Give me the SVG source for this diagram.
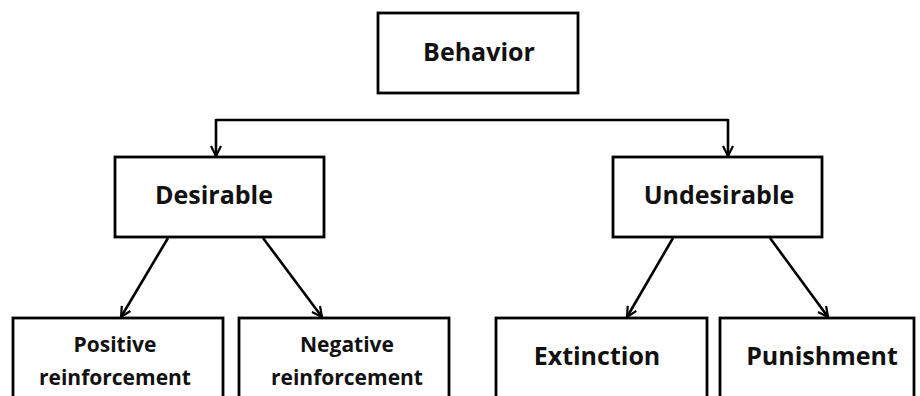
<svg xmlns="http://www.w3.org/2000/svg" width="920" height="396" viewBox="0 0 920 396">
<defs>
<marker id="arr" viewBox="0 0 12 12" refX="11" refY="6" markerWidth="12" markerHeight="12" markerUnits="userSpaceOnUse" orient="auto">
<path d="M1,1 L11,6 L1,11" fill="none" stroke="#000" stroke-width="2.2"/>
</marker>
<style>
.box{fill:#fff;stroke:#000;stroke-width:2.8}
.t{font-family:"Open Sans","Liberation Sans",sans-serif;font-weight:700;font-size:25px;fill:#111;text-anchor:middle}
.s{font-size:21px}
.c{fill:none;stroke:#000;stroke-width:2.6}
</style>
</defs>
<rect width="920" height="396" fill="#fff"/>
<g id="connectors">
<path class="c" d="M216,120 L728,120"/>
<path class="c" d="M216,119 L216,156" marker-end="url(#arr)"/>
<path class="c" d="M728,119 L728,156" marker-end="url(#arr)"/>
<path class="c" d="M168,238 L121,317" marker-end="url(#arr)"/>
<path class="c" d="M263,238 L322,317" marker-end="url(#arr)"/>
<path class="c" d="M673,238 L627,317" marker-end="url(#arr)"/>
<path class="c" d="M770,238 L828,317" marker-end="url(#arr)"/>
</g>
<g id="behavior">
<rect class="box" x="378" y="13" width="200" height="80"/>
<text class="t" x="479" y="61">Behavior</text>
</g>
<g id="desirable">
<rect class="box" x="115" y="157" width="209" height="80"/>
<text class="t" x="214" y="204">Desirable</text>
</g>
<g id="undesirable">
<rect class="box" x="613" y="157" width="209" height="80"/>
<text class="t" x="719" y="204">Undesirable</text>
</g>
<g id="positive">
<rect class="box" x="13" y="318" width="210" height="90"/>
<text class="t s" x="115" y="352">Positive</text>
<text class="t s" x="115" y="385">reinforcement</text>
</g>
<g id="negative">
<rect class="box" x="239" y="318" width="210" height="90"/>
<text class="t s" x="347" y="352">Negative</text>
<text class="t s" x="347" y="385">reinforcement</text>
</g>
<g id="extinction">
<rect class="box" x="496" y="318" width="211" height="90"/>
<text class="t" x="597" y="365">Extinction</text>
</g>
<g id="punishment">
<rect class="box" x="720" y="318" width="194" height="90"/>
<text class="t" x="822" y="365">Punishment</text>
</g>
</svg>
